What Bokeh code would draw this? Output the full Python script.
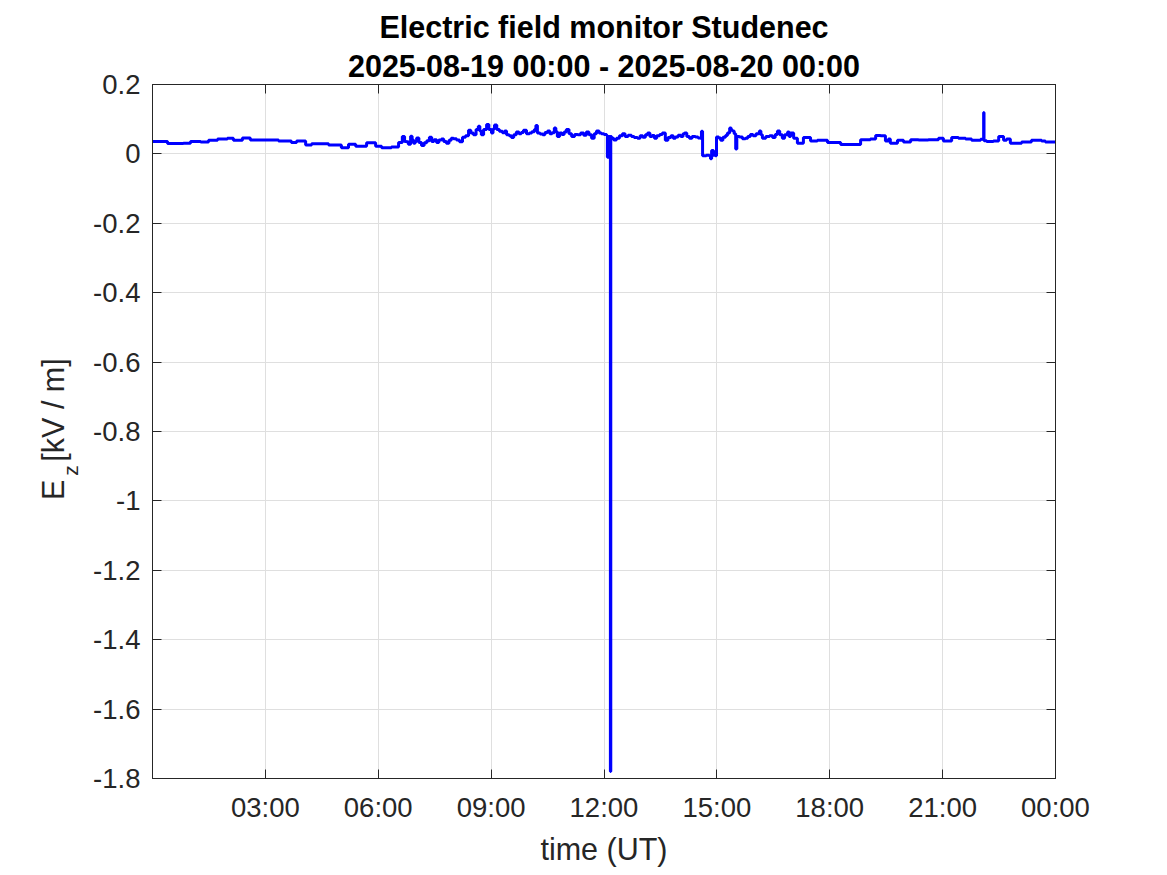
import math
from bokeh.plotting import figure
from bokeh.models import Range1d, FixedTicker, LinearAxis, Label, Title
from bokeh.layouts import row
from bokeh.embed import file_html
from bokeh.resources import INLINE

# ---- data ----
time_h = [0.00, 0.40, 0.82, 1.01, 1.28, 1.49, 1.73, 1.99, 2.15, 2.39, 2.60, 3.06, 3.35,
          3.69, 3.83, 4.07, 4.23, 4.68, 5.02, 5.21, 5.40, 5.69, 5.93, 6.09, 6.35,
          6.54, 6.64, 6.70, 6.75, 6.80, 6.86, 6.90, 6.94, 6.98, 7.02, 7.08, 7.15, 7.22, 7.29,
          7.36, 7.42, 7.48, 7.55, 7.61, 7.68, 7.74, 7.81, 7.88, 7.94, 8.00, 8.08, 8.16, 8.24,
          8.32, 8.40, 8.46, 8.53, 8.60, 8.66, 8.70, 8.74, 8.80, 8.88, 8.94, 9.01, 9.05, 9.09,
          9.15, 9.22, 9.30, 9.36, 9.41, 9.48, 9.54, 9.60, 9.67, 9.74, 9.80, 9.86, 9.94, 10.02,
          10.08, 10.15, 10.19, 10.23, 10.30, 10.37, 10.43, 10.50, 10.56, 10.62, 10.68, 10.72,
          10.76, 10.82, 10.88, 10.94, 11.00, 11.07, 11.14, 11.22, 11.30, 11.38, 11.46, 11.53,
          11.60, 11.67, 11.74, 11.80, 11.87, 11.93, 12.00, 12.07, 12.09, 12.12, 12.16, 12.17,
          12.18, 12.20, 12.26, 12.33, 12.41, 12.49, 12.56, 12.64, 12.73, 12.80, 12.89, 12.96,
          13.03, 13.10, 13.16, 13.22, 13.28, 13.34, 13.40, 13.48, 13.55, 13.63, 13.70, 13.78,
          13.84, 13.90, 13.97, 14.04, 14.10, 14.14, 14.20, 14.27, 14.34, 14.43, 14.50, 14.56,
          14.59, 14.62, 14.72, 14.80, 14.83, 14.86, 14.91, 14.96, 14.99, 15.05, 15.10, 15.16,
          15.23, 15.28, 15.34, 15.38, 15.42, 15.46, 15.50, 15.53, 15.60, 15.68, 15.76, 15.82,
          15.89, 15.96, 16.04, 16.13, 16.17, 16.21, 16.30, 16.40, 16.48, 16.55, 16.61, 16.67,
          16.74, 16.80, 16.88, 16.92, 16.96, 17.04, 17.14, 17.30, 17.49, 17.67, 17.94, 18.29,
          18.63, 18.82, 19.08, 19.22, 19.35, 19.48, 19.56, 19.61, 19.80, 19.96, 20.15, 20.36,
          20.62, 20.89, 21.02, 21.24, 21.42, 21.61, 21.77, 22.01, 22.08, 22.09, 22.10, 22.17,
          22.35, 22.49, 22.62, 22.70, 22.80, 23.10, 23.36, 23.63, 23.73, 24.00]
ez_kv_m = [0.036, 0.030, 0.031, 0.036, 0.034, 0.039, 0.043, 0.045, 0.039, 0.046, 0.040, 0.040, 0.037,
           0.033, 0.037, 0.026, 0.029, 0.026, 0.018, 0.028, 0.022, 0.032, 0.022, 0.018, 0.020,
           0.033, 0.050, 0.036, 0.035, 0.028, 0.051, 0.040, 0.031, 0.036, 0.046, 0.033, 0.024, 0.032, 0.038,
           0.048, 0.036, 0.041, 0.033, 0.040, 0.043, 0.036, 0.031, 0.039, 0.045, 0.044, 0.040, 0.035, 0.048,
           0.052, 0.068, 0.060, 0.055, 0.070, 0.080, 0.066, 0.055, 0.070, 0.085, 0.070, 0.060, 0.072, 0.083,
           0.070, 0.065, 0.061, 0.066, 0.055, 0.052, 0.047, 0.055, 0.063, 0.058, 0.062, 0.068, 0.058, 0.060,
           0.064, 0.070, 0.082, 0.060, 0.057, 0.055, 0.062, 0.066, 0.058, 0.061, 0.075, 0.064,
           0.050, 0.060, 0.056, 0.063, 0.070, 0.058, 0.050, 0.056, 0.055, 0.060, 0.054, 0.063,
           0.055, 0.045, 0.058, 0.066, 0.060, 0.058, 0.056, 0.053, -0.010, 0.050, 0.050, -1.780,
           0.050, 0.045, 0.040, 0.045, 0.052, 0.058, 0.050, 0.054, 0.050, 0.047, 0.045, 0.052,
           0.048, 0.055, 0.060, 0.050, 0.053, 0.045, 0.052, 0.056, 0.060, 0.039, 0.047, 0.052,
           0.045, 0.049, 0.054, 0.050, 0.058, 0.060, 0.050, 0.045, 0.050, 0.049, 0.046, 0.045,
           0.065, -0.005, -0.004, -0.006, -0.014, 0.010, -0.004, -0.005, 0.049, 0.046, 0.039, 0.048,
           0.053, 0.060, 0.075, 0.068, 0.066, 0.058, 0.014, 0.050, 0.049, 0.044, 0.045, 0.050,
           0.056, 0.052, 0.058, 0.066, 0.055, 0.045, 0.050, 0.052, 0.047, 0.056, 0.066, 0.055,
           0.045, 0.055, 0.063, 0.050, 0.060, 0.045, 0.031, 0.047, 0.037, 0.039, 0.033, 0.027,
           0.027, 0.041, 0.043, 0.053, 0.052, 0.037, 0.043, 0.031, 0.039, 0.034, 0.041, 0.040,
           0.041, 0.045, 0.037, 0.047, 0.045, 0.043, 0.039, 0.042, 0.042, 0.119, 0.038, 0.036,
           0.037, 0.050, 0.039, 0.043, 0.031, 0.034, 0.039, 0.037, 0.034, 0.034]

x_ticks = [3, 6, 9, 12, 15, 18, 21, 24]
x_tick_labels = ["03:00", "06:00", "09:00", "12:00", "15:00", "18:00", "21:00", "00:00"]
y_ticks = [-1.8, -1.6, -1.4, -1.2, -1.0, -0.8, -0.6, -0.4, -0.2, 0.0, 0.2]
y_tick_labels = ["-1.8", "-1.6", "-1.4", "-1.2", "-1", "-0.8", "-0.6", "-0.4", "-0.2", "0", "0.2"]

title_line1 = "Electric field monitor Studenec"
title_line2 = "2025-08-19 00:00 - 2025-08-20 00:00"
x_label = "time (UT)"
y_label_main = "E"
y_label_sub = "z"
y_label_unit = "[kV / m]"

FONT = "Liberation Sans"
AX = "#262626"
H = 870
LW = 90
TICK_FS = "27.5px"
LABEL_FS = "30.5px"

# ---- left strip carrying the y-axis label ----
pl = figure(width=LW, height=H, output_backend="svg", toolbar_location=None,
            x_range=Range1d(0, LW), y_range=Range1d(H, 0),
            x_axis_type=None, y_axis_type=None, min_border=0)
pl.outline_line_color = None
pl.xgrid.visible = False
pl.ygrid.visible = False
rot = math.pi / 2
pl.add_layout(Label(x=52.5, y=508, text=y_label_main, angle=rot, text_align="center",
                    text_baseline="middle", text_font=FONT, text_font_size=LABEL_FS,
                    text_color=AX))
pl.add_layout(Label(x=70, y=484, text=y_label_sub, angle=rot, text_align="center",
                    text_baseline="middle", text_font=FONT, text_font_size="21px",
                    text_color=AX))
pl.add_layout(Label(x=52.5, y=408, text=y_label_unit, angle=rot, text_align="center",
                    text_baseline="middle", text_font=FONT, text_font_size=LABEL_FS,
                    text_color=AX))

# ---- main plot ----
p = figure(width=1159 - LW, height=H, output_backend="svg", toolbar_location=None,
           x_range=Range1d(0, 24), y_range=Range1d(-1.8, 0.2),
           min_border_left=152 - LW, min_border_right=1159 - 152 - 903,
           min_border_top=84, min_border_bottom=H - 84 - 694)
p.xaxis.visible = False
p.yaxis.visible = False
p.outline_line_color = AX
p.outline_line_width = 1

def style_axis(ax):
    ax.axis_line_color = AX
    ax.major_tick_line_color = AX
    ax.major_tick_in = 9
    ax.major_tick_out = 0
    ax.minor_tick_line_color = None
    ax.major_label_text_font = FONT
    ax.major_label_text_font_size = TICK_FS
    ax.major_label_text_color = AX

xb = LinearAxis(ticker=FixedTicker(ticks=x_ticks),
                major_label_overrides={t: s for t, s in zip(x_ticks, x_tick_labels)})
style_axis(xb)
xb.major_label_standoff = 13
xb.axis_label = x_label
xb.axis_label_text_font = FONT
xb.axis_label_text_font_size = LABEL_FS
xb.axis_label_text_font_style = "normal"
xb.axis_label_text_color = AX
xb.axis_label_standoff = 6
p.add_layout(xb, "below")

xt = LinearAxis(ticker=FixedTicker(ticks=x_ticks),
                major_label_overrides={t: "" for t in x_ticks})
style_axis(xt)
xt.major_label_standoff = 0
p.add_layout(xt, "above")

yl = LinearAxis(ticker=FixedTicker(ticks=y_ticks),
                major_label_overrides={t: s for t, s in zip(y_ticks, y_tick_labels)})
style_axis(yl)
yl.major_label_standoff = 12
p.add_layout(yl, "left")

yr = LinearAxis(ticker=FixedTicker(ticks=y_ticks),
                major_label_overrides={t: "" for t in y_ticks})
style_axis(yr)
yr.major_label_standoff = 0
p.add_layout(yr, "right")

p.xgrid.ticker = FixedTicker(ticks=x_ticks)
p.ygrid.ticker = FixedTicker(ticks=y_ticks)
for g in (p.xgrid, p.ygrid):
    g.grid_line_color = "#dfdfdf"
    g.grid_line_width = 1

p.step(time_h, ez_kv_m, mode="after", line_color="#0000ff", line_width=3)

p.add_layout(Title(text=title_line2, align="center", text_font=FONT, text_font_size=LABEL_FS,
                   text_font_style="bold", text_color="black", standoff=4), "above")
p.add_layout(Title(text=title_line1, align="center", text_font=FONT, text_font_size=LABEL_FS,
                   text_font_style="bold", text_color="black", standoff=2), "above")

layout = row(pl, p, spacing=0)
open("out.html", "w").write(file_html(layout, INLINE))
